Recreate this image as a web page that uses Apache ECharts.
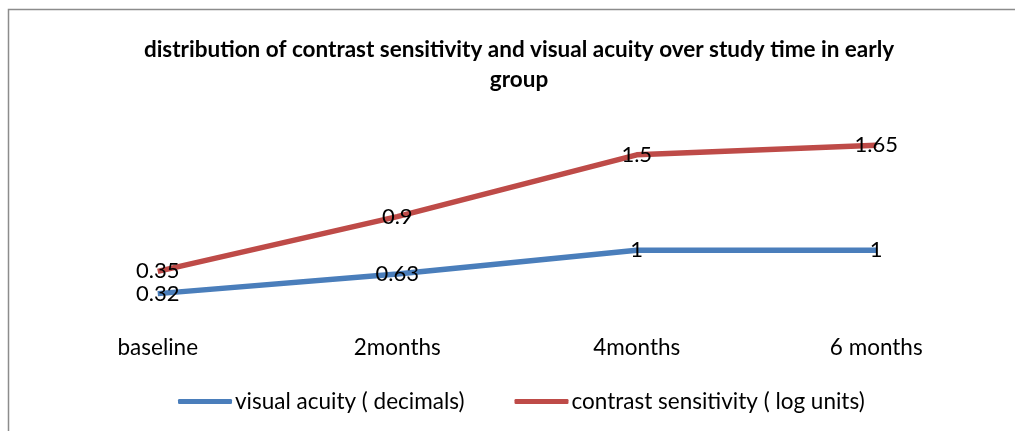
<!DOCTYPE html>
<html><head><meta charset="utf-8">
<script src="https://cdn.jsdelivr.net/npm/echarts@6/dist/echarts.min.js"></script>
<style>html,body{margin:0;padding:0;background:#fff}#c{width:1015px;height:431px}</style>
</head><body><div id="c"></div>
<script>
var categories = ['baseline', '2months', '4months', '6 months'];
var visualAcuity = [0.32, 0.63, 1, 1];
var contrastSensitivity = [0.35, 0.9, 1.5, 1.65];
var seriesNames = ['visual acuity ( decimals)', 'contrast sensitivity ( log units)'];
var titleText = 'distribution of contrast sensitivity and visual acuity over study time in early\ngroup';

var FONT = 'Lato';
var chart = echarts.init(document.getElementById('c'));
var lbl = {show: true, position: 'inside', color: '#000', fontSize: 22, fontFamily: FONT};
chart.setOption({
  animation: false,
  backgroundColor: '#fff',
  title: {text: titleText, left: 514, textAlign: 'center', top: 30,
    textStyle: {fontFamily: FONT, fontWeight: 'bold', fontSize: 22.5, color: '#000', lineHeight: 30}},
  graphic: [{type: 'polyline', shape: {points: [[8.5, 431], [8.5, 9.5], [1015, 9.5]]},
    style: {stroke: '#8c8c8c', lineWidth: 1.5, fill: null}}],
  legend: {bottom: 13, left: 173, itemWidth: 54, itemHeight: 5, itemGap: 50,
    icon: 'roundRect', textStyle: {fontFamily: FONT, fontSize: 22.5, color: '#000', padding: [0, 0, 0, -2]},
    data: seriesNames},
  grid: {left: 38, right: 19, top: 123, bottom: 117},
  xAxis: {type: 'category', data: categories, boundaryGap: true,
    axisLine: {show: false}, axisTick: {show: false},
    axisLabel: {color: '#000', fontFamily: FONT, fontSize: 22.5, margin: 22}},
  yAxis: {type: 'value', min: 0, max: 3, show: false, splitLine: {show: false}},
  series: [
    {name: seriesNames[0], type: 'line', stack: 'total', data: visualAcuity, symbol: 'circle', symbolSize: 0,
      color: '#4a7ebb', lineStyle: {width: 5.5, color: '#4a7ebb'}, label: lbl},
    {name: seriesNames[1], type: 'line', stack: 'total', data: contrastSensitivity, symbol: 'circle', symbolSize: 0,
      color: '#be4b48', lineStyle: {width: 5.5, color: '#be4b48'}, label: lbl}
  ]
});
</script></body></html>
